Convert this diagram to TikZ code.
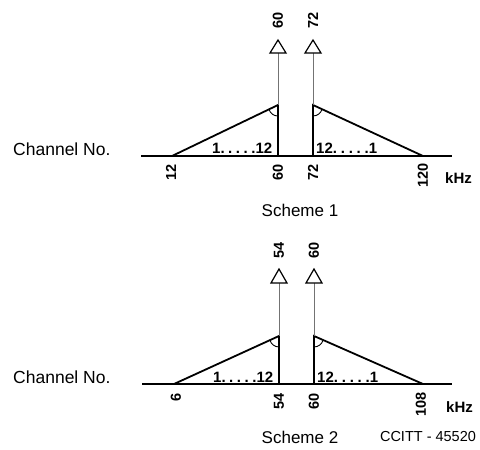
\documentclass[tikz,border=0pt]{standalone}
\usepackage{fontspec}
\setmainfont{Liberation Sans}
\usetikzlibrary{calc}
\begin{document}
\begin{tikzpicture}[x=1pt,y=-1pt,
  thickline/.style={line width=1.8pt, line join=miter},
  guide/.style={line width=0.8pt, black!55},
  headbox/.style={draw, line width=1.2pt, fill=white, line join=miter},
  anglemark/.style={line width=0.9pt},
  num/.style={font=\bfseries\fontsize{14.5}{14.5}\selectfont, rotate=90, inner sep=0pt},
  inner/.style={font=\bfseries\fontsize{15}{15}\selectfont, inner sep=0pt, anchor=base west},
  unit/.style={font=\bfseries\fontsize{15}{15}\selectfont, inner sep=0pt, anchor=base west},
  chan/.style={font=\fontsize{17.5}{17.5}\selectfont, inner sep=0pt, anchor=base west},
  title/.style={font=\fontsize{17}{17}\selectfont, inner sep=0pt},
  refno/.style={font=\fontsize{14.5}{14.5}\selectfont, inner sep=0pt}
]
\useasboundingbox (0,0) rectangle (480,450);

% ---------------- Scheme 1 ----------------
\coordinate (s1start) at (141,156);
\coordinate (s1end) at (452,156);
\coordinate (s1fl) at (172,156);
\coordinate (s1fr) at (423,156);
\coordinate (s1a) at (278,156);
\coordinate (s1b) at (313,156);
\coordinate (s1ta) at (278,105);
\coordinate (s1tb) at (313,105);
\coordinate (s1ha) at (278,53);
\coordinate (s1hb) at (313,53);
\coordinate (s1pa) at (278,40);
\coordinate (s1pb) at (313,40);

\draw[thickline] (s1start) -- (s1end);
\draw[thickline] (s1fl) -- (s1ta) -- (s1a);
\draw[thickline] (s1fr) -- (s1tb) -- (s1b);
\draw[guide] (s1ta) -- (s1ha);
\draw[guide] (s1tb) -- (s1hb);
\draw[headbox] ($(s1ha)+(-8,0)$) -- (s1pa) -- ($(s1ha)+(8,0)$) -- cycle;
\draw[headbox] ($(s1hb)+(-8,0)$) -- (s1pb) -- ($(s1hb)+(8,0)$) -- cycle;
\draw[anglemark] ($(s1ta)!10pt!(s1fl)$) to[bend right=35] ($(s1ta)+(0,11)$);
\draw[anglemark] ($(s1tb)!10pt!(s1fr)$) to[bend left=35] ($(s1tb)+(0,11)$);

\node[chan] (ch1) at (13,155) {Channel No.};
\node[inner] (in1l) at (212,153) {\makebox[60pt][s]{1.\hfill.\hfill.\hfill.\hfill.12}};
\node[inner] (in1r) at (316,153) {\makebox[61pt][s]{12.\hfill.\hfill.\hfill.\hfill.1}};
\node[num, anchor=west] (t1a) at (278,29) {60};
\node[num, anchor=west] (t1b) at (313,29) {72};
\node[num, anchor=east] (b1l) at (171,164) {12};
\node[num, anchor=east] (b1a) at (278,164) {60};
\node[num, anchor=east] (b1b) at (313,164) {72};
\node[num, anchor=east] (b1r) at (423,163) {120};
\node[unit] (khz1) at (445,183) {kHz};
\node[title] (sc1) at (300,210) {Scheme 1};

% ---------------- Scheme 2 ----------------
\coordinate (s2start) at (142,384);
\coordinate (s2end) at (452,384);
\coordinate (s2fl) at (174,384);
\coordinate (s2fr) at (423,384);
\coordinate (s2a) at (279,384);
\coordinate (s2b) at (314,384);
\coordinate (s2ta) at (279,336);
\coordinate (s2tb) at (314,336);
\coordinate (s2ha) at (279,283);
\coordinate (s2hb) at (314,283);
\coordinate (s2pa) at (279,269);
\coordinate (s2pb) at (314,269);

\draw[thickline] (s2start) -- (s2end);
\draw[thickline] (s2fl) -- (s2ta) -- (s2a);
\draw[thickline] (s2fr) -- (s2tb) -- (s2b);
\draw[guide] (s2ta) -- (s2ha);
\draw[guide] (s2tb) -- (s2hb);
\draw[headbox] ($(s2ha)+(-8,0)$) -- (s2pa) -- ($(s2ha)+(8,0)$) -- cycle;
\draw[headbox] ($(s2hb)+(-8,0)$) -- (s2pb) -- ($(s2hb)+(8,0)$) -- cycle;
\draw[anglemark] ($(s2ta)!10pt!(s2fl)$) to[bend right=35] ($(s2ta)+(0,11)$);
\draw[anglemark] ($(s2tb)!10pt!(s2fr)$) to[bend left=35] ($(s2tb)+(0,11)$);

\node[chan] (ch2) at (13,383) {Channel No.};
\node[inner] (in2l) at (213,382) {\makebox[60pt][s]{1.\hfill.\hfill.\hfill.\hfill.12}};
\node[inner] (in2r) at (317,382) {\makebox[61pt][s]{12.\hfill.\hfill.\hfill.\hfill.1}};
\node[num, anchor=west] (t2a) at (279,259) {54};
\node[num, anchor=west] (t2b) at (314,259) {60};
\node[num, anchor=east] (b2l) at (176,393) {6};
\node[num, anchor=east] (b2a) at (279,393) {54};
\node[num, anchor=east] (b2b) at (314,393) {60};
\node[num, anchor=east] (b2r) at (421,392) {108};
\node[unit] (khz2) at (446,412) {kHz};
\node[title] (sc2) at (300,437) {Scheme 2};
\node[refno] (ref) at (428,437) {CCITT - 45520};
\end{tikzpicture}
\end{document}
